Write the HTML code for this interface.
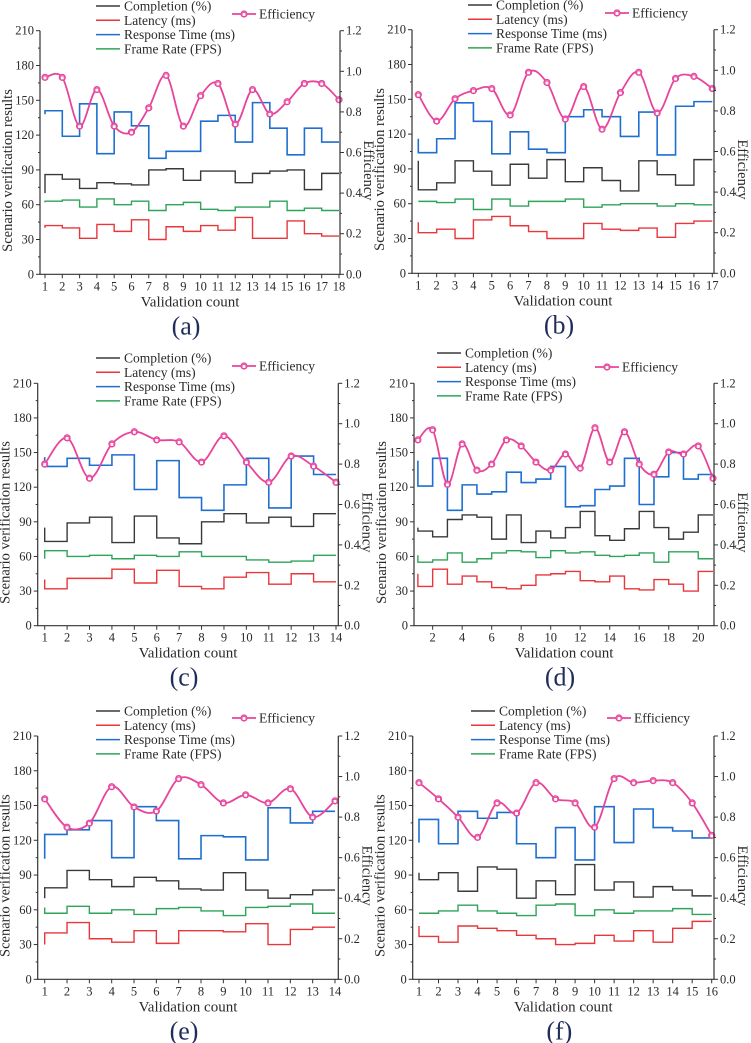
<!DOCTYPE html>
<html><head><meta charset="utf-8">
<style>
html,body{margin:0;padding:0;background:#fff;}
svg{display:block;}
svg text{font-family:"Liberation Serif","DejaVu Serif",serif;}
</style></head>
<body>
<svg id="chart" width="751" height="1043" viewBox="0 0 751 1043" xmlns="http://www.w3.org/2000/svg" font-family="Liberation Serif, serif"></svg>
<script>
// ---- data: panel (a) ----
const aBlue=[138,141,119,147,104,140,128,100,106,106,132,137,114,148,126,103,126,114];
const aBlack=[70,86,82,74,79,78,77,90,91,81,89,89,79,87,89,90,73,87];
const aGreen=[62,63,64,58,65,60,63,55,60,62,56,55,58,58,63,55,57,55];
const aRed=[40,42,40,31,43,37,47,30,41,37,42,38,49,31,31,46,35,33];
const aEff=[0.97,0.97,0.73,0.91,0.73,0.70,0.82,0.98,0.73,0.88,0.94,0.74,0.91,0.79,0.85,0.94,0.94,0.86];
const aTicks=[1,2,3,4,5,6,7,8,9,10,11,12,13,14,15,16,17,18];
// ---- panel (b) ----
const bBlue=[116,104,116,147,131,103,122,107,104,135,141,135,118,139,102,144,148];
const bBlack=[97,72,78,97,88,76,94,82,98,79,91,80,71,97,85,76,98];
const bGreen=[62,62,61,64,55,64,58,62,62,64,57,59,60,60,58,60,59];
const bRed=[44,35,38,30,46,49,41,36,30,30,43,38,37,39,31,43,45];
const bEff=[0.88,0.75,0.86,0.90,0.91,0.78,0.99,0.94,0.76,0.92,0.71,0.89,0.99,0.79,0.96,0.97,0.91];
const bTicks=[1,2,3,4,5,6,7,8,9,10,11,12,13,14,15,16,17];
// ---- panel (c) ----
const cBlue=[146,138,145,139,148,118,143,111,100,122,145,102,147,131];
const cBlack=[85,73,89,94,72,95,76,71,90,97,89,94,86,97];
const cGreen=[58,65,60,61,58,61,60,64,60,60,57,55,56,61];
const cRed=[40,32,41,41,49,37,48,34,32,42,46,36,45,38];
const cEff=[0.80,0.93,0.73,0.90,0.96,0.92,0.91,0.81,0.94,0.81,0.71,0.84,0.79,0.71];
const cTicks=[1,2,3,4,5,6,7,8,9,10,11,12,13,14];
// ---- panel (d) ----
const dBlue=[143,121,145,100,122,114,116,133,124,127,138,103,104,118,121,145,105,129,150,127,131];
const dBlack=[85,82,77,92,96,94,75,96,72,82,76,85,99,78,74,84,99,85,75,81,96];
const dGreen=[61,55,57,63,55,58,63,65,64,59,65,63,64,61,60,61,63,55,64,64,58];
const dRed=[45,34,49,36,43,38,33,32,35,44,45,47,39,38,43,32,31,40,36,30,47];
const dEff=[0.92,0.97,0.70,0.90,0.77,0.80,0.92,0.89,0.81,0.77,0.85,0.78,0.98,0.81,0.96,0.80,0.75,0.86,0.85,0.89,0.73];
const dTicks=[2,4,6,8,10,12,14,16,18,20];
// ---- panel (e) ----
const eBlue=[104,125,129,137,105,149,137,104,124,123,103,148,135,145];
const eBlack=[70,79,94,86,80,88,85,78,77,92,77,70,73,77];
const eGreen=[62,57,63,57,60,56,61,62,59,55,62,63,65,57];
const eRed=[30,40,49,35,32,42,31,42,42,41,48,30,43,45];
const eEff=[0.89,0.75,0.77,0.95,0.85,0.83,0.99,0.96,0.87,0.91,0.87,0.94,0.80,0.88];
const eTicks=[1,2,3,4,5,6,7,8,9,10,11,12,13,14];
// ---- panel (f) ----
const fBlue=[118,138,117,145,139,144,117,105,131,103,149,118,147,131,128,122];
const fBlack=[92,86,92,76,97,95,70,85,73,99,77,84,71,80,77,72];
const fGreen=[57,57,59,64,59,57,55,64,65,55,60,57,59,59,61,56];
const fRed=[46,37,32,46,44,42,38,35,30,31,38,33,42,32,44,50];
const fEff=[0.97,0.89,0.80,0.70,0.87,0.82,0.97,0.89,0.87,0.75,0.99,0.97,0.98,0.97,0.87,0.71];
const fTicks=[1,2,3,4,5,6,7,8,9,10,11,12,13,14,15,16];
const leftTicks=[0,30,60,90,120,150,180,210];
const rightTicks=[0.0,0.2,0.4,0.6,0.8,1.0,1.2];
const seriesNames=["Completion (%)","Latency (ms)","Response Time (ms)","Frame Rate (FPS)"];

const C={black:"#3a3a3a",red:"#e8363a",blue:"#1f6fd0",green:"#2ea35a",pink:"#e8449a",text:"#2a2a2a"};
const FONT='"Liberation Serif", "DejaVu Serif", serif';
const svg=document.getElementById('chart');
const NS="http://www.w3.org/2000/svg";
function el(tag,attrs,parent){const e=document.createElementNS(NS,tag);for(const k in attrs)e.setAttribute(k,attrs[k]);(parent||svg).appendChild(e);return e;}
function txt(s,attrs,parent){attrs['font-family']=FONT;const t=el('text',attrs,parent);t.style.fontFamily=FONT;t.textContent=s;return t;}

const panels=[
 {id:'a',L:40,R:340,T:30.7,B:274.3,x1:45,xn:339,xmin:1,xmax:18,ticks:aTicks,d:[aBlack,aRed,aBlue,aGreen],eff:aEff,lg:{lx:96,ly:6,ex:232,ey:14}},
 {id:'b',L:412,R:714,T:29.7,B:273.3,x1:418.3,xn:712.3,xmin:1,xmax:17,ticks:bTicks,d:[bBlack,bRed,bBlue,bGreen],eff:bEff,lg:{lx:468,ly:5,ex:605,ey:13}},
 {id:'c',L:37.7,R:338.3,T:383.3,B:625.7,x1:44.7,xn:336,xmin:1,xmax:14,ticks:cTicks,d:[cBlack,cRed,cBlue,cGreen],eff:cEff,lg:{lx:96,ly:358,ex:232,ey:366}},
 {id:'d',L:414,R:714,T:383.3,B:625.7,x1:417.9,xn:713,xmin:1,xmax:21,ticks:dTicks,d:[dBlack,dRed,dBlue,dGreen],eff:dEff,lg:{lx:437,ly:353,ex:595,ey:367}},
 {id:'e',L:37.7,R:338.3,T:736,B:979.3,x1:44.7,xn:335,xmin:1,xmax:14,ticks:eTicks,d:[eBlack,eRed,eBlue,eGreen],eff:eEff,lg:{lx:96,ly:711,ex:232,ey:718}},
 {id:'f',L:412.7,R:714,T:736,B:979.3,x1:419,xn:711.7,xmin:1,xmax:16,ticks:fTicks,d:[fBlack,fRed,fBlue,fGreen],eff:fEff,lg:{lx:471,ly:711,ex:607,ey:718}}
];
const colors=[C.black,C.red,C.blue,C.green];

panels.forEach(p=>{
  const g=el('g',{});
  
  
  const X=v=>p.x1+(v-p.xmin)*(p.xn-p.x1)/(p.xmax-p.xmin);
  const Y=v=>p.B-v*(p.B-p.T)/210;
  const Y2=v=>p.B-v*(p.B-p.T)/1.2;
  p.d.forEach((arr,si)=>{
    let d='M'+X(1)+','+Y(arr[0]);
    for(let i=1;i<arr.length;i++){d+=' L'+X(i)+','+Y(arr[i])+' L'+X(i+1)+','+Y(arr[i]);}
    const path=el('path',{d:d,fill:'none',stroke:colors[si],'stroke-width':si===2?1.6:1.4},g);
    
    
  });
  const pts=p.eff.map((v,i)=>[X(i+1),Y2(v)]);
  let d='M'+pts[0][0]+','+pts[0][1];
  for(let i=0;i<pts.length-1;i++){
    const p0=pts[Math.max(0,i-1)],p1=pts[i],p2=pts[i+1],p3=pts[Math.min(pts.length-1,i+2)];
    const c1=[p1[0]+(p2[0]-p0[0])/6,p1[1]+(p2[1]-p0[1])/6];
    const c2=[p2[0]-(p3[0]-p1[0])/6,p2[1]-(p3[1]-p1[1])/6];
    d+=' C'+c1[0]+','+c1[1]+' '+c2[0]+','+c2[1]+' '+p2[0]+','+p2[1];
  }
  const ep=el('path',{d:d,fill:'none',stroke:C.pink,'stroke-width':1.8},g);
  
  
  pts.forEach((q,i)=>{
    const m=el('g',{},g);
    
    
    el('circle',{cx:q[0],cy:q[1],r:3.1,fill:'#f07cc0',stroke:C.pink,'stroke-width':1},m);
    el('rect',{x:q[0]-1.8,y:q[1]-1.3,width:3.6,height:3.6,fill:'#fff',stroke:C.pink,'stroke-width':0.7},m);
  });
  const ax=el('path',{d:`M${p.L},${p.T} L${p.L},${p.B} L${p.R},${p.B} L${p.R},${p.T}`,fill:'none',stroke:'#333','stroke-width':1.2},g);
  
  
  leftTicks.forEach((t,i)=>{
    const y=Y(t);
    el('line',{x1:p.L-4,x2:p.L,y1:y,y2:y,stroke:'#333','stroke-width':1},g);
    if(i<leftTicks.length-1){const ym=Y(t+15);el('line',{x1:p.L-2,x2:p.L,y1:ym,y2:ym,stroke:'#333','stroke-width':1},g);}
    const tl=txt(String(t),{x:p.L-6,y:y+4,'text-anchor':'end','font-size':12.5,fill:C.text},g);
    
    
  });
  rightTicks.forEach((t,i)=>{
    const y=Y2(t);
    el('line',{x1:p.R,x2:p.R+4,y1:y,y2:y,stroke:'#333','stroke-width':1},g);
    if(i<rightTicks.length-1){const ym=Y2(t+0.1);el('line',{x1:p.R,x2:p.R+2,y1:ym,y2:ym,stroke:'#333','stroke-width':1},g);}
    const tl=txt(t.toFixed(1),{x:p.R+6,y:y+4,'font-size':12.5,fill:C.text},g);
    
    
  });
  p.ticks.forEach(t=>{
    const x=X(t);
    el('line',{x1:x,x2:x,y1:p.B,y2:p.B+4,stroke:'#333','stroke-width':1},g);
    const tl=txt(String(t),{x:x,y:p.B+16,'text-anchor':'middle','font-size':12.5,fill:C.text},g);
    
    
  });
  const cx=(p.L+p.R)/2, cy=(p.T+p.B)/2;
  const xt=txt('Validation count',{x:cx,y:p.B+32,'text-anchor':'middle','font-size':15,fill:C.text},g);
  
  
  const yt=txt('Scenario verification results',{x:0,y:0,'text-anchor':'middle','font-size':14.5,fill:C.text,transform:`translate(${p.L-28},${cy+18}) rotate(-90)`},g);
  
  
  const y2t=txt('Efficiency',{x:0,y:0,'text-anchor':'middle','font-size':14.5,fill:C.text,transform:`translate(${p.R+24},${cy+18}) rotate(90)`},g);
  
  
  const lab=txt('('+p.id+')',{x:cx-4,y:p.B+60,'text-anchor':'middle','font-size':26,fill:'#1f2d5a'},g);
  
  
  const lg=p.lg;
  seriesNames.forEach((n,i)=>{
    const y=lg.ly+i*14.3;
    const le=el('g',{},g);
    
    
    el('line',{x1:lg.lx,x2:lg.lx+24,y1:y,y2:y,stroke:colors[i],'stroke-width':1.5},le);
    txt(n,{x:lg.lx+28,y:y+4.5,'font-size':13.5,fill:C.text},le);
  });
  const le=el('g',{},g);
  
  
  el('line',{x1:lg.ex,x2:lg.ex+24,y1:lg.ey,y2:lg.ey,stroke:C.pink,'stroke-width':1.8},le);
  el('circle',{cx:lg.ex+12,cy:lg.ey,r:3.1,fill:'#f07cc0',stroke:C.pink},le);
  el('rect',{x:lg.ex+10.2,y:lg.ey-1.3,width:3.6,height:3.6,fill:'#fff',stroke:C.pink,'stroke-width':0.7},le);
  txt('Efficiency',{x:lg.ex+27,y:lg.ey+4.5,'font-size':13.5,fill:C.text},le);
});
</script>
</body></html>
